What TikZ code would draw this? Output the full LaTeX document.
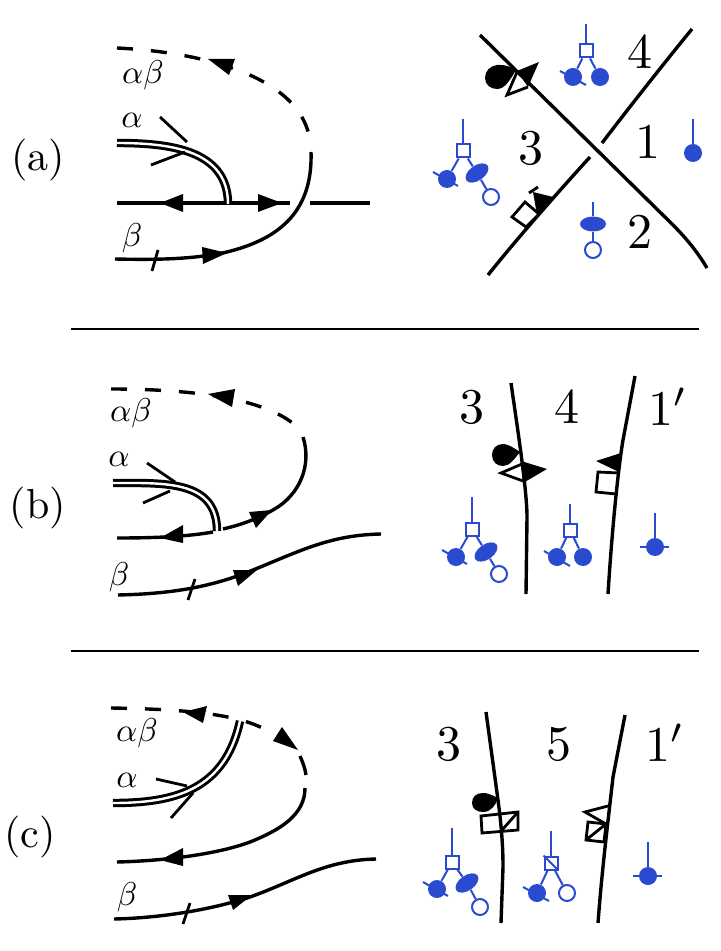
\documentclass[tikz,border=0pt]{standalone}
\usetikzlibrary{shapes.geometric}
\definecolor{inkblue}{HTML}{2A4BCF}
\tikzset{
  wire/.style={black,line width=1.7pt},
  dashwire/.style={wire,dash pattern=on 8pt off 9pt},
  dblwire/.style={black,line width=1.5pt,double=white,double distance=1.2pt},
  thinwire/.style={black,line width=1.4pt},
  tip/.style={fill=black,draw=none},
  markbox/.style={draw=black,line width=1.4pt,fill=white,line join=miter},
  tear/.style={fill=black,draw=none},
  blueline/.style={draw=inkblue,line width=1pt},
  bluedot/.style={circle,fill=inkblue,inner sep=0pt,minimum size=9pt},
  opendot/.style={circle,draw=inkblue,line width=1pt,fill=white,inner sep=0pt,minimum size=8pt},
  bluesq/.style={rectangle,draw=inkblue,line width=1pt,fill=white,inner sep=0pt,minimum size=6.5pt},
  blueoval/.style={ellipse,fill=inkblue,inner sep=0pt,minimum width=13pt,minimum height=7.5pt},
  bignum/.style={scale=2.5,transform shape},
  paneltag/.style={scale=2.1,transform shape},
  linelabel/.style={scale=1.65,transform shape}
}
\begin{document}
\begin{tikzpicture}[x=0.5pt,y=-0.5pt]
  \useasboundingbox (0,0) rectangle (720,951);
  % dividers
  \draw[line width=0.75pt] (71,329) -- (699,329);
  \draw[line width=0.75pt] (71,651) -- (699,651);

  % panel a, left
  \node[paneltag] (taga) at (38,160) {(a)};
  \draw[dashwire] (117,48) .. controls (200,52) and (295,75) .. (309,135);
  \fill[tip] (208,59) -- (235,59) -- (229,75) -- cycle;
  \draw[wire] (117,203) -- (290,203);
  \draw[wire] (310,203) -- (370,203);
  \draw[wire] (115,259) .. controls (160,260) and (195,259) .. (227,252)
       .. controls (275,240) and (313,215) .. (311,152);
  \draw[dblwire] (117,143) .. controls (170,143) and (228,150) .. (228,204);
  \draw[thinwire] (160,117) -- (187,142);
  \draw[thinwire] (151,165) -- (185,152);
  \fill[tip] (160,203) -- (183,194) -- (183,212) -- cycle;
  \fill[tip] (282,203) -- (258,194) -- (258,212) -- cycle;
  \fill[tip] (227,253) -- (202,247) -- (203,264) -- cycle;
  \draw[thinwire] (158,250) -- (152,271);
  \node[linelabel] (aab) at (143,75) {$\alpha\beta$};
  \node[linelabel] (aa) at (132,120) {$\alpha$};
  \node[linelabel] (ab) at (132,238) {$\beta$};

  % panel a, right
  \draw[wire] (480,35) -- (672,224) .. controls (688,240) and (698,253) .. (707,268);
  \draw[wire] (692,29) .. controls (665,62) and (635,100) .. (602,143);
  \draw[wire] (590,157) .. controls (560,190) and (520,235) .. (488,275);
  \node[bignum] (a4) at (640,52) {4};
  \node[bignum] (a3) at (531,148) {3};
  \node[bignum] (a1) at (648,142) {1};
  \node[bignum] (a2) at (640,232) {2};
  \fill[tear] (516,70) .. controls (506,64) and (500,65) .. (497,65)
       .. controls (490,66) and (485,71) .. (485,78)
       .. controls (485,85) and (491,89) .. (497,89)
       .. controls (505,89) and (510,80) .. (516,70) -- cycle;
  \draw[markbox,fill=none] (517,72) -- (507,95) -- (528,87);
  \fill[tip] (517,71) -- (528,87) -- (539,62) -- cycle;
  \draw[markbox] (512,217) -- (525,202) -- (539,214) -- (526,227) -- cycle;
  \fill[tip] (553,197) -- (537,215) -- (533,192) -- cycle;
  \draw[thinwire] (529,193) -- (538,187);

  % blue, region 4
  \node[bluesq] (a4s) at (586,51) {};
  \node[bluedot] (a4l) at (573,77) {};
  \node[bluedot] (a4r) at (600,77) {};
  \coordinate (a4t) at (586,24);
  \draw[blueline] (a4t) -- (a4s);
  \draw[blueline] (a4s) -- (a4l);
  \draw[blueline] (a4s) -- (a4r);
  \draw[blueline] (560,71) -- (586,85);
  % blue, region 1
  \node[bluedot] (a1d) at (693,153) {};
  \coordinate (a1t) at (693,119);
  \draw[blueline] (a1t) -- (a1d);
  % blue, region 3
  \node[bluesq] (a3s) at (463,151) {};
  \node[bluedot] (a3l) at (447,179) {};
  \node[blueoval,rotate=35] (a3o) at (477,173) {};
  \node[opendot] (a3c) at (491,197) {};
  \coordinate (a3t) at (463,119);
  \draw[blueline] (a3t) -- (a3s);
  \draw[blueline] (a3s) -- (a3l);
  \draw[blueline] (a3s) -- (a3o);
  \draw[blueline] (a3o) -- (a3c);
  \draw[blueline] (433,172) -- (458,186);
  % blue, region 2
  \node[blueoval] (a2o) at (593,224) {};
  \node[opendot] (a2c) at (593,250) {};
  \coordinate (a2t) at (593,202);
  \draw[blueline] (a2t) -- (a2o);
  \draw[blueline] (a2o) -- (a2c);

  % panel b, left
  \node[paneltag] (tagb) at (38,508) {(b)};
  \draw[dashwire] (111,389) .. controls (190,389) and (265,398) .. (296,426);
  \fill[tip] (208,394) -- (235,389) -- (232,407) -- cycle;
  \draw[wire] (303,437) .. controls (312,465) and (300,495) .. (273,510)
       .. controls (255,520) and (240,525) .. (223,529);
  \draw[wire] (117,538) .. controls (150,538) and (185,537) .. (213,532);
  \draw[dblwire] (113,483) .. controls (165,483) and (217,480) .. (217,531);
  \draw[thinwire] (147,463) -- (175,482);
  \draw[thinwire] (143,503) -- (170,491);
  \fill[tip] (160,538) -- (183,525) -- (183,543) -- cycle;
  \fill[tip] (272,510) -- (249,512) -- (256,528) -- cycle;
  \draw[wire] (118,595) .. controls (160,594) and (205,590) .. (253,570)
       .. controls (300,551) and (330,535) .. (381,534);
  \fill[tip] (257,570) -- (233,570) -- (238,586) -- cycle;
  \draw[thinwire] (195,579) -- (188,600);
  \node[linelabel] (bab) at (131,413) {$\alpha\beta$};
  \node[linelabel] (ba) at (119,459) {$\alpha$};
  \node[linelabel] (bb) at (119,577) {$\beta$};

  % panel b, right
  \draw[wire] (511,383) .. controls (517,425) and (527,490) .. (527,517) -- (526,594);
  \draw[wire] (635,376) -- (623,440) .. controls (618,470) and (612,530) .. (608,594);
  \node[bignum] (b3) at (472,407) {3};
  \node[bignum] (b4) at (567,407) {4};
  \node[bignum] (b1) at (668,407) {$1'$};
  \fill[tear] (520,452) .. controls (511,446) and (507,444) .. (503,444)
       .. controls (496,444) and (492,449) .. (492,455)
       .. controls (492,462) and (497,466) .. (503,466)
       .. controls (510,466) and (515,458) .. (520,452) -- cycle;
  \draw[markbox,fill=none] (522,464) -- (501,473) -- (523,481);
  \fill[tip] (521,461) -- (523,483) -- (547,469) -- cycle;
  \fill[tip] (596,461) -- (621,453) -- (619,472) -- cycle;
  \draw[markbox,fill=none] (619,473) -- (598,472) -- (596,492) -- (616,494);

  % blue, region 3
  \node[bluesq] (b3s) at (472,529) {};
  \node[bluedot] (b3l) at (456,557) {};
  \node[blueoval,rotate=35] (b3o) at (486,552) {};
  \node[opendot] (b3c) at (499,574) {};
  \coordinate (b3t) at (472,497);
  \draw[blueline] (b3t) -- (b3s);
  \draw[blueline] (b3s) -- (b3l);
  \draw[blueline] (b3s) -- (b3o);
  \draw[blueline] (b3o) -- (b3c);
  \draw[blueline] (442,550) -- (467,564);
  % blue, region 4
  \node[bluesq] (b4s) at (570,530) {};
  \node[bluedot] (b4l) at (557,557) {};
  \node[bluedot] (b4r) at (583,557) {};
  \coordinate (b4t) at (570,504);
  \draw[blueline] (b4t) -- (b4s);
  \draw[blueline] (b4s) -- (b4l);
  \draw[blueline] (b4s) -- (b4r);
  \draw[blueline] (544,551) -- (570,566);
  % blue, region 1'
  \node[bluedot] (b1d) at (655,547) {};
  \coordinate (b1t) at (655,513);
  \draw[blueline] (b1t) -- (b1d);
  \draw[blueline] (640,547) -- (669,547);

  % panel c, left
  \node[paneltag] (tagc) at (30,837) {(c)};
  \draw[dashwire] (111,708) .. controls (170,709) and (235,712) .. (266,730);
  \draw[wire] (300,756) .. controls (303,763) and (305,768) .. (306,775);
  \draw[dblwire] (113,803) .. controls (175,803) and (225,790) .. (240,721);
  \fill[tip] (183,712) -- (207,706) -- (203,723) -- cycle;
  \fill[tip] (298,750) -- (282,727) -- (273,741) -- cycle;
  \draw[thinwire] (156,779) -- (187,786);
  \draw[thinwire] (171,818) -- (193,793);
  \draw[wire] (305,788) .. controls (305,815) and (280,830) .. (250,842)
       .. controls (215,855) and (160,861) .. (117,862);
  \fill[tip] (160,860) -- (183,848) -- (183,866) -- cycle;
  \draw[wire] (114,919) .. controls (160,918) and (210,910) .. (250,897)
       .. controls (295,881) and (325,860) .. (376,859);
  \fill[tip] (252,895) -- (228,895) -- (233,910) -- cycle;
  \draw[thinwire] (190,903) -- (183,924);
  \node[linelabel] (cab) at (137,733) {$\alpha\beta$};
  \node[linelabel] (ca) at (127,780) {$\alpha$};
  \node[linelabel] (cb) at (127,897) {$\beta$};

  % panel c, right
  \draw[wire] (486,712) -- (498,800) .. controls (502,830) and (503,850) .. (503,867) -- (501,923);
  \draw[wire] (625,715) -- (613,777) .. controls (607,830) and (602,870) .. (598,923);
  \node[bignum] (c3) at (449,744) {3};
  \node[bignum] (c5) at (559,744) {5};
  \node[bignum] (c1) at (665,743) {$1'$};
  \fill[tear] (498,798) .. controls (490,794) and (487,793) .. (483,793)
       .. controls (476,793) and (472,797) .. (472,803)
       .. controls (472,809) and (477,812) .. (483,812)
       .. controls (491,812) and (496,805) .. (498,798) -- cycle;
  \draw[markbox,fill=none] (481,816) -- (518,812) -- (518,830) -- (482,833) -- cycle;
  \draw[thinwire] (502,830) -- (518,812);
  \draw[markbox,fill=none] (608,806) -- (585,812) -- (606,824);
  \draw[markbox,fill=none] (588,822) -- (606,824) -- (604,842) -- (586,840) -- cycle;
  \draw[thinwire] (586,840) -- (606,824);

  % blue, region 3
  \node[bluesq] (c3s) at (452,862) {};
  \node[bluedot] (c3l) at (437,889) {};
  \node[blueoval,rotate=35] (c3o) at (467,883) {};
  \node[opendot] (c3c) at (480,907) {};
  \coordinate (c3t) at (452,828);
  \draw[blueline] (c3t) -- (c3s);
  \draw[blueline] (c3s) -- (c3l);
  \draw[blueline] (c3s) -- (c3o);
  \draw[blueline] (c3o) -- (c3c);
  \draw[blueline] (423,882) -- (448,896);
  % blue, region 5
  \node[bluesq] (c5s) at (551,863) {};
  \node[bluedot] (c5l) at (537,893) {};
  \node[opendot] (c5r) at (567,893) {};
  \coordinate (c5t) at (551,831);
  \draw[blueline] (c5t) -- (c5s);
  \draw[blueline] (c5s) -- (c5l);
  \draw[blueline] (c5s) -- (c5r);
  \draw[blueline] (c5s.north west) -- (c5s.south east);
  \draw[blueline] (523,887) -- (549,901);
  % blue, region 1'
  \node[bluedot] (c1d) at (648,876) {};
  \coordinate (c1t) at (648,842);
  \draw[blueline] (c1t) -- (c1d);
  \draw[blueline] (633,876) -- (662,876);
\end{tikzpicture}
\end{document}
